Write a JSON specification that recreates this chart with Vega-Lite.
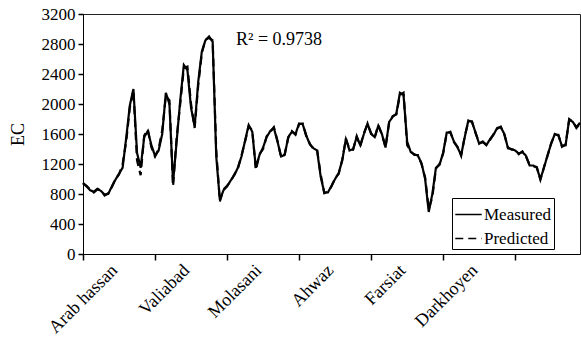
{
  "$schema": "https://vega.github.io/schema/vega-lite/v6.json",
  "width": 497,
  "height": 240,
  "autosize": {"type": "none"},
  "padding": {"left": 83, "top": 14, "right": 1, "bottom": 83},
  "background": "white",
  "config": {
    "view": {"stroke": "#222", "strokeWidth": 1},
    "font": "Liberation Serif, serif",
    "axis": {"grid": false, "domainColor": "black", "tickColor": "black", "tickWidth": 1.5, "labelColor": "black", "labelFont": "Liberation Serif, serif", "labelOverlap": false, "labelFlush": false, "titleFont": "Liberation Serif, serif", "titleFontWeight": "normal", "titleColor": "black"},
    "axisX": {"tickSize": 6, "labelAngle": -45, "labelAlign": "right", "labelBaseline": "top", "labelOffset": 25, "labelPadding": 1, "labelFontSize": 18, "labelBound": false},
    "axisY": {"tickSize": 5, "labelFontSize": 17, "labelPadding": 3, "titleFontSize": 18, "titlePadding": 14}
  },
  "datasets": {
    "ec": [
      {"i":0,"Measured":950,"Predicted":940},{"i":1,"Measured":900,"Predicted":910},{"i":2,"Measured":850,"Predicted":860},{"i":3,"Measured":830,"Predicted":820},{"i":4,"Measured":870,"Predicted":860},{"i":5,"Measured":840,"Predicted":850},{"i":6,"Measured":790,"Predicted":780},{"i":7,"Measured":800,"Predicted":810},{"i":8,"Measured":900,"Predicted":890},{"i":9,"Measured":990,"Predicted":1000},
      {"i":10,"Measured":1070,"Predicted":1060},{"i":11,"Measured":1150,"Predicted":1200},{"i":12,"Measured":1550,"Predicted":1500},{"i":13,"Measured":1980,"Predicted":1950},{"i":14,"Measured":2200,"Predicted":2180},{"i":15,"Measured":1350,"Predicted":1250},{"i":16,"Measured":1150,"Predicted":1050},{"i":17,"Measured":1560,"Predicted":1580},{"i":18,"Measured":1640,"Predicted":1660},{"i":19,"Measured":1450,"Predicted":1420},
      {"i":20,"Measured":1310,"Predicted":1300},{"i":21,"Measured":1380,"Predicted":1400},{"i":22,"Measured":1600,"Predicted":1650},{"i":23,"Measured":2150,"Predicted":2100},{"i":24,"Measured":2000,"Predicted":2050},{"i":25,"Measured":950,"Predicted":900},{"i":26,"Measured":1500,"Predicted":1550},{"i":27,"Measured":2050,"Predicted":2000},{"i":28,"Measured":2520,"Predicted":2480},{"i":29,"Measured":2450,"Predicted":2500},
      {"i":30,"Measured":1950,"Predicted":2000},{"i":31,"Measured":1700,"Predicted":1680},{"i":32,"Measured":2300,"Predicted":2250},{"i":33,"Measured":2700,"Predicted":2680},{"i":34,"Measured":2850,"Predicted":2860},{"i":35,"Measured":2900,"Predicted":2880},{"i":36,"Measured":2830,"Predicted":2850},{"i":37,"Measured":1300,"Predicted":1380},{"i":38,"Measured":720,"Predicted":700},{"i":39,"Measured":850,"Predicted":860},
      {"i":40,"Measured":900,"Predicted":910},{"i":41,"Measured":980,"Predicted":970},{"i":42,"Measured":1050,"Predicted":1060},{"i":43,"Measured":1150,"Predicted":1140},{"i":44,"Measured":1300,"Predicted":1310},{"i":45,"Measured":1510,"Predicted":1500},{"i":46,"Measured":1720,"Predicted":1700},{"i":47,"Measured":1630,"Predicted":1650},{"i":48,"Measured":1150,"Predicted":1120},{"i":49,"Measured":1320,"Predicted":1330},
      {"i":50,"Measured":1420,"Predicted":1400},{"i":51,"Measured":1560,"Predicted":1570},{"i":52,"Measured":1640,"Predicted":1630},{"i":53,"Measured":1680,"Predicted":1690},{"i":54,"Measured":1500,"Predicted":1510},{"i":55,"Measured":1300,"Predicted":1290},{"i":56,"Measured":1320,"Predicted":1330},{"i":57,"Measured":1560,"Predicted":1550},{"i":58,"Measured":1630,"Predicted":1640},{"i":59,"Measured":1600,"Predicted":1590},
      {"i":60,"Measured":1740,"Predicted":1730},{"i":61,"Measured":1730,"Predicted":1740},{"i":62,"Measured":1580,"Predicted":1570},{"i":63,"Measured":1460,"Predicted":1470},{"i":64,"Measured":1410,"Predicted":1400},{"i":65,"Measured":1380,"Predicted":1390},{"i":66,"Measured":1030,"Predicted":1060},{"i":67,"Measured":820,"Predicted":810},{"i":68,"Measured":820,"Predicted":830},{"i":69,"Measured":910,"Predicted":900},
      {"i":70,"Measured":1000,"Predicted":1010},{"i":71,"Measured":1080,"Predicted":1070},{"i":72,"Measured":1250,"Predicted":1260},{"i":73,"Measured":1540,"Predicted":1530},{"i":74,"Measured":1380,"Predicted":1400},{"i":75,"Measured":1400,"Predicted":1390},{"i":76,"Measured":1560,"Predicted":1570},{"i":77,"Measured":1450,"Predicted":1440},{"i":78,"Measured":1600,"Predicted":1610},{"i":79,"Measured":1740,"Predicted":1730},
      {"i":80,"Measured":1600,"Predicted":1610},{"i":81,"Measured":1560,"Predicted":1550},{"i":82,"Measured":1710,"Predicted":1720},{"i":83,"Measured":1600,"Predicted":1590},{"i":84,"Measured":1420,"Predicted":1430},{"i":85,"Measured":1760,"Predicted":1750},{"i":86,"Measured":1830,"Predicted":1840},{"i":87,"Measured":1870,"Predicted":1860},{"i":88,"Measured":2150,"Predicted":2120},{"i":89,"Measured":2120,"Predicted":2150},
      {"i":90,"Measured":1500,"Predicted":1450},{"i":91,"Measured":1360,"Predicted":1370},{"i":92,"Measured":1330,"Predicted":1320},{"i":93,"Measured":1310,"Predicted":1320},{"i":94,"Measured":1210,"Predicted":1200},{"i":95,"Measured":1000,"Predicted":1020},{"i":96,"Measured":560,"Predicted":600},{"i":97,"Measured":800,"Predicted":760},{"i":98,"Measured":1150,"Predicted":1140},{"i":99,"Measured":1190,"Predicted":1200},
      {"i":100,"Measured":1350,"Predicted":1340},{"i":101,"Measured":1620,"Predicted":1610},{"i":102,"Measured":1620,"Predicted":1630},{"i":103,"Measured":1500,"Predicted":1490},{"i":104,"Measured":1420,"Predicted":1430},{"i":105,"Measured":1320,"Predicted":1310},{"i":106,"Measured":1560,"Predicted":1570},{"i":107,"Measured":1780,"Predicted":1770},{"i":108,"Measured":1760,"Predicted":1770},{"i":109,"Measured":1620,"Predicted":1610},
      {"i":110,"Measured":1470,"Predicted":1480},{"i":111,"Measured":1500,"Predicted":1490},{"i":112,"Measured":1450,"Predicted":1460},{"i":113,"Measured":1530,"Predicted":1520},{"i":114,"Measured":1590,"Predicted":1600},{"i":115,"Measured":1680,"Predicted":1670},{"i":116,"Measured":1690,"Predicted":1700},{"i":117,"Measured":1600,"Predicted":1590},{"i":118,"Measured":1410,"Predicted":1420},{"i":119,"Measured":1400,"Predicted":1390},
      {"i":120,"Measured":1380,"Predicted":1390},{"i":121,"Measured":1340,"Predicted":1330},{"i":122,"Measured":1360,"Predicted":1370},{"i":123,"Measured":1310,"Predicted":1300},{"i":124,"Measured":1180,"Predicted":1190},{"i":125,"Measured":1180,"Predicted":1170},{"i":126,"Measured":1150,"Predicted":1160},{"i":127,"Measured":1000,"Predicted":990},{"i":128,"Measured":1150,"Predicted":1160},{"i":129,"Measured":1320,"Predicted":1310},
      {"i":130,"Measured":1470,"Predicted":1480},{"i":131,"Measured":1600,"Predicted":1590},{"i":132,"Measured":1580,"Predicted":1590},{"i":133,"Measured":1440,"Predicted":1430},{"i":134,"Measured":1450,"Predicted":1460},{"i":135,"Measured":1800,"Predicted":1790},{"i":136,"Measured":1760,"Predicted":1770},{"i":137,"Measured":1690,"Predicted":1680},{"i":138,"Measured":1750,"Predicted":1740}
    ]
  },
  "layer": [
    {
      "data": {"name": "ec"},
      "transform": [{"fold": ["Measured", "Predicted"], "as": ["series", "EC"]}],
      "mark": {"type": "line", "color": "black", "strokeWidth": 2.2},
      "encoding": {
        "x": {
          "field": "i", "type": "quantitative",
          "scale": {"domain": [0, 138], "nice": false, "zero": false},
          "axis": {
            "title": null, "values": [0, 20, 40, 60, 80, 100, 120],
            "labelExpr": "datum.value == 0 ? 'Arab hassan' : datum.value == 20 ? 'Valiabad' : datum.value == 40 ? 'Molasani' : datum.value == 60 ? 'Ahwaz' : datum.value == 80 ? 'Farsiat' : datum.value == 100 ? 'Darkhoyen' : ''"
          }
        },
        "y": {
          "field": "EC", "type": "quantitative",
          "scale": {"domain": [0, 3200], "nice": false},
          "axis": {"title": "EC", "values": [0, 400, 800, 1200, 1600, 2000, 2400, 2800, 3200], "format": "d"}
        },
        "strokeDash": {
          "field": "series", "type": "nominal",
          "scale": {"domain": ["Measured", "Predicted"], "range": [[1, 0], [8, 5]]},
          "legend": {
            "title": null, "orient": "none", "legendX": 369, "legendY": 184,
            "strokeColor": "black", "fillColor": "white", "padding": 2,
            "symbolType": "stroke", "symbolStrokeColor": "black", "symbolStrokeWidth": 1.6, "symbolSize": 700,
            "labelFont": "Liberation Serif, serif", "labelFontSize": 17, "labelColor": "black", "labelOffset": 1, "rowPadding": 1
          }
        }
      }
    },
    {
      "data": {"values": [{"x": 42.5, "y": 2850, "label": "R² = 0.9738"}]},
      "mark": {"type": "text", "align": "left", "baseline": "middle", "font": "Liberation Serif, serif", "fontSize": 18, "color": "black"},
      "encoding": {
        "x": {
          "field": "x", "type": "quantitative",
          "axis": {
            "title": null, "values": [0, 20, 40, 60, 80, 100, 120],
            "labelExpr": "datum.value == 0 ? 'Arab hassan' : datum.value == 20 ? 'Valiabad' : datum.value == 40 ? 'Molasani' : datum.value == 60 ? 'Ahwaz' : datum.value == 80 ? 'Farsiat' : datum.value == 100 ? 'Darkhoyen' : ''"
          }
        },
        "y": {
          "field": "y", "type": "quantitative",
          "axis": {"title": "EC", "values": [0, 400, 800, 1200, 1600, 2000, 2400, 2800, 3200], "format": "d"}
        },
        "text": {"field": "label"}
      }
    }
  ]
}
